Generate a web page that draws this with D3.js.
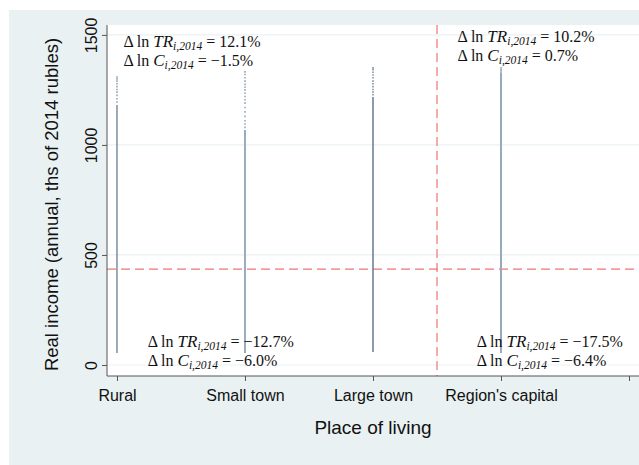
<!DOCTYPE html>
<html><head><meta charset="utf-8">
<script src="https://cdn.jsdelivr.net/npm/d3@7"></script>
<style>body{margin:0;background:#fff;} svg{display:block;}</style>
</head><body>
<svg id="c" width="639" height="465"></svg>
<script>
// ---- data ----
const categories = ["Rural", "Small town", "Large town", "Region's capital"];
const catPos = [1, 2, 3, 4];
const xTicks = [1, 2, 3, 4, 5];
const yTicks = [0, 500, 1000, 1500];
const denseLow  = [55, 55, 59, 55];
const denseHigh = [1182, 1068, 1218, 1330];
const tailPoints = [
  [1195, 1210, 1225, 1240, 1252, 1265, 1278, 1290, 1300, 1309],
  [1080, 1095, 1110, 1130, 1150, 1170, 1190, 1205, 1220, 1235, 1250, 1262, 1275, 1290, 1305, 1320, 1332],
  [1228, 1240, 1252, 1265, 1278, 1290, 1305, 1318, 1330, 1342, 1350],
  [1336, 1342, 1350]
];
const stripColors = ["#5d7086", "#8fa4b9", "#5d7086", "#97a9bc"];
const stripWidths = [1.2, 1.8, 1.4, 2];
const refIncome = 436;
const refX = 3.5;
const annotations = [
  {x: 1.05, y: 1445, tr: "12.1%", c: "\u22121.5%"},
  {x: 3.66, y: 1468, tr: "10.2%", c: "0.7%"},
  {x: 1.24, y: 82, tr: "\u221212.7%", c: "\u22126.0%"},
  {x: 3.81, y: 82, tr: "\u221217.5%", c: "\u22126.4%"}
];

// ---- layout ----
const svg = d3.select("#c");
const W = 639, H = 465;
const L = 107, R = 639, T = 25, B = 376;
const sans = "Arial, 'Liberation Sans', sans-serif";
svg.append("rect").attr("x", 9).attr("y", 10).attr("width", W - 9).attr("height", H - 10).attr("fill", "#eaf1f3");
svg.append("rect").attr("x", L).attr("y", T).attr("width", R - L).attr("height", B - T).attr("fill", "#ffffff");

const x = d3.scaleLinear().domain([0.922, 5.078]).range([L, R]);
const y = d3.scaleLinear().domain([-50, 1545]).range([B, T]);

// gridlines
svg.append("g").selectAll("line").data(yTicks).join("line")
  .attr("x1", L).attr("x2", R).attr("y1", d => y(d)).attr("y2", d => y(d))
  .attr("stroke", "#eaf1f3").attr("stroke-width", 1.2);

// reference lines
svg.append("line").attr("x1", L).attr("x2", R).attr("y1", y(refIncome)).attr("y2", y(refIncome))
  .attr("stroke", "#f07474").attr("stroke-width", 1.2).attr("stroke-dasharray", "9,5");
svg.append("line").attr("x1", x(refX)).attr("x2", x(refX)).attr("y1", T).attr("y2", B)
  .attr("stroke", "#f07474").attr("stroke-width", 1.2).attr("stroke-dasharray", "9,5");

// strips
const strips = svg.append("g");
catPos.forEach((c, i) => {
  strips.append("line").attr("x1", x(c)).attr("x2", x(c))
    .attr("y1", y(denseLow[i])).attr("y2", y(denseHigh[i]))
    .attr("stroke", stripColors[i]).attr("stroke-width", stripWidths[i]);
  strips.selectAll(null).data(tailPoints[i]).join("line")
    .attr("x1", x(c)).attr("x2", x(c))
    .attr("y1", d => y(d) - 0.8).attr("y2", d => y(d) + 0.8)
    .attr("stroke", stripColors[i]).attr("stroke-width", stripWidths[i]).attr("opacity", 0.85);
});

// axes
const yAxis = d3.axisLeft(y).tickValues(yTicks).tickSize(5).tickFormat(d3.format("d"));
const gy = svg.append("g").attr("transform", `translate(${L},0)`).call(yAxis);
gy.select(".domain").attr("stroke", "#555").attr("d", `M0,${T}V${B}`);
gy.selectAll(".tick line").attr("stroke", "#555");
gy.selectAll(".tick text").attr("font-family", sans).attr("font-size", 16)
  .attr("fill", "#111").attr("x", null).attr("y", null).attr("dy", "0")
  .attr("text-anchor", "middle").attr("transform", "translate(-10,0) rotate(-90)");

const xAxis = d3.axisBottom(x).tickValues(xTicks).tickSize(5)
  .tickFormat(d => d <= 4 ? categories[d - 1] : "");
const gx = svg.append("g").attr("transform", `translate(0,${B})`).call(xAxis);
gx.select(".domain").attr("stroke", "#555").attr("d", `M${L},0H${R}`);
gx.selectAll(".tick line").attr("stroke", "#555");
gx.selectAll(".tick text").attr("font-family", sans).attr("font-size", 16)
  .attr("fill", "#111").attr("dy", "0").attr("y", 25);

// titles
svg.append("text").attr("transform", `translate(58,${(T + B) / 2 + 4}) rotate(-90)`)
  .attr("text-anchor", "middle").attr("font-family", sans)
  .attr("font-size", 18.5).attr("fill", "#111").text("Real income (annual, ths of 2014 rubles)");
svg.append("text").attr("x", 373).attr("y", 434).attr("text-anchor", "middle")
  .attr("font-family", sans).attr("font-size", 19).attr("fill", "#111")
  .text("Place of living");

// annotations
const ann = svg.append("g").attr("font-family", "'Liberation Serif', 'DejaVu Serif', serif").attr("font-size", 16).attr("fill", "#111");
function mathLine(g, px, py, sym, val) {
  const t = g.append("text").attr("x", px).attr("y", py);
  t.append("tspan").text("\u0394 ln ");
  t.append("tspan").attr("font-style", "italic").attr("font-size", 17).text(sym);
  t.append("tspan").attr("font-style", "italic").attr("font-size", 11.5).attr("dy", 3).text("i,2014");
  t.append("tspan").attr("dy", -3).text(" = " + val);
}
annotations.forEach(a => {
  const px = x(a.x), py = y(a.y);
  mathLine(ann, px, py, "TR", a.tr);
  mathLine(ann, px, py + 19, "C", a.c);
});
</script>
</body></html>
